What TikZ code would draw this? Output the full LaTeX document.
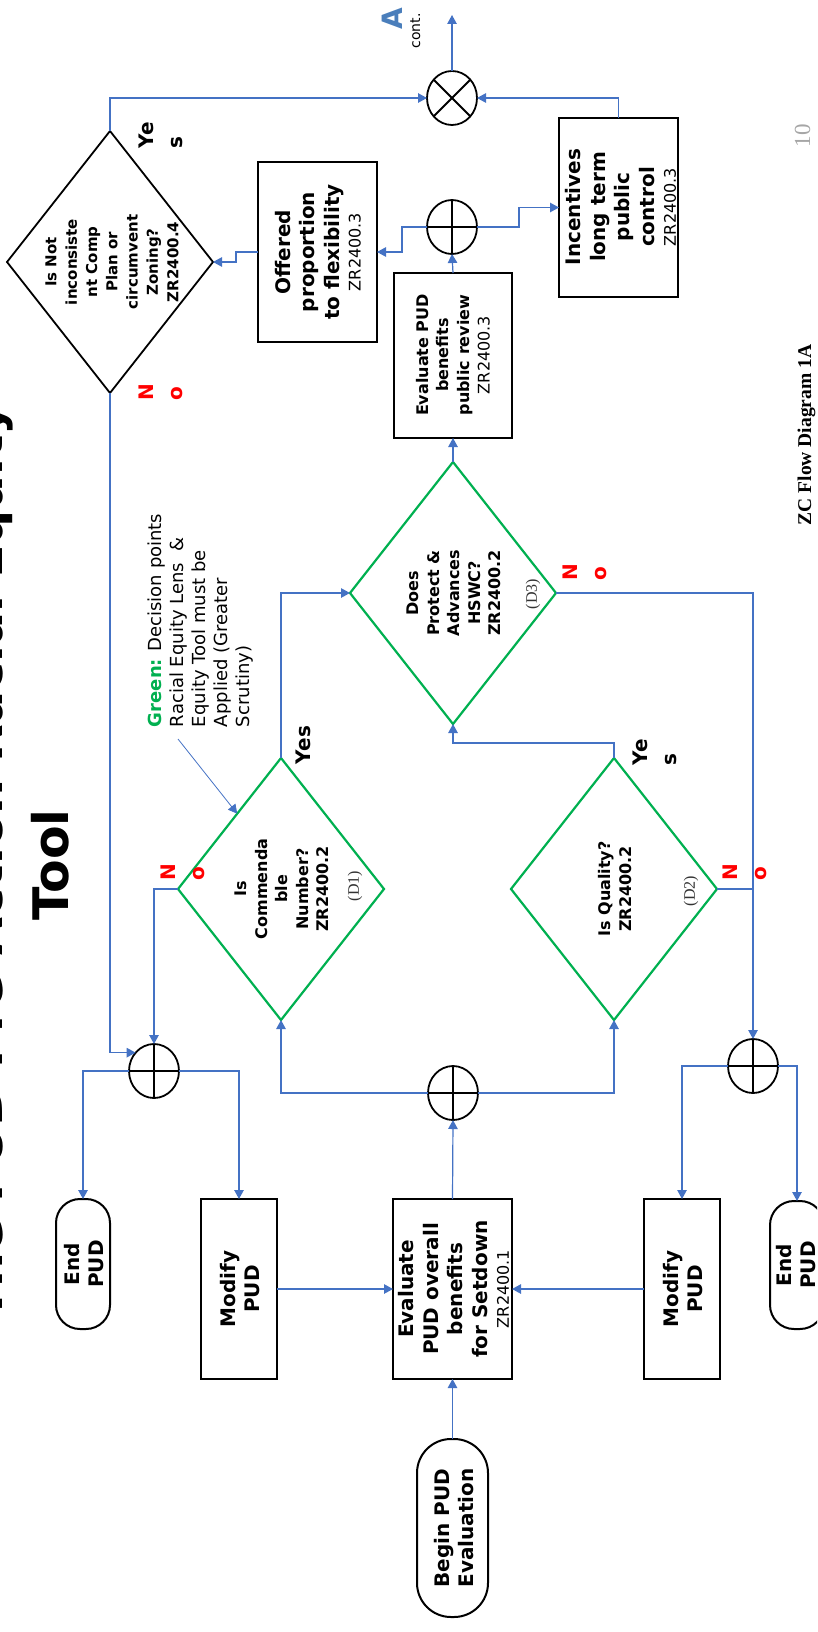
\documentclass[tikz,border=0pt]{standalone}
\usepackage{fontspec}
\setmainfont{DejaVu Sans}
\newfontfamily\serifface{Liberation Serif}
\usetikzlibrary{shapes.geometric,arrows.meta,calc}
\definecolor{cblue}{HTML}{4472C4}
\definecolor{cgreen}{HTML}{00B050}
\definecolor{cred}{HTML}{FF0000}
\definecolor{pgray}{HTML}{A6A6A6}
\definecolor{ablue}{HTML}{4A7EBB}
\newcommand\fsz[2]{\fontsize{#1}{#2}\selectfont}
\newcommand\zr[1]{{\mdseries\fsz{16}{19}#1}}
\begin{document}
\begin{tikzpicture}[x=1pt,y=-1pt,
  every node/.style={outer sep=0pt},
  conn/.style={draw=cblue,line width=1.2pt,-{Triangle[length=9pt,width=9.5pt]}},
  link/.style={draw=cblue,line width=1.2pt},
  box/.style={draw=black,line width=2pt,rectangle,inner sep=0pt},
  term/.style={draw=black,line width=2pt,rectangle,rounded corners=#1,inner sep=0pt},
  bdia/.style={diamond,draw=black,line width=1.8pt,inner sep=0pt,minimum width=206pt,minimum height=262pt},
  gdia/.style={diamond,draw=cgreen,line width=2.2pt,inner sep=0pt,minimum width=206pt,minimum height=262pt},
  circ/.style={ellipse,draw=black,line width=1.8pt,inner sep=0pt,minimum width=50pt,minimum height=54pt},
  txt/.style={rotate=90,align=center,inner sep=0pt},
  boxtxt/.style={txt,font=\bfseries\fsz{20}{24.5}},
  diatxt/.style={txt,font=\bfseries\fsz{16}{20.5}},
  yn/.style={rotate=90,align=left,inner sep=0pt,font=\bfseries\fsz{20}{29}},
  dref/.style={rotate=90,inner sep=0pt,font=\serifface\fsz{16}{18},text=black!80},
  cross/.style={draw=black,line width=1.8pt},
]
\useasboundingbox (0,0) rectangle (817,1632);
\clip (0,0) rectangle (817,1632);

% title and page texts
\node[rotate=90,anchor=base,inner sep=0pt,font=\bfseries\fsz{49}{60}] (ttl1) at (2,862) {The PUD Pre-Action Racial Equity};
\node[rotate=90,anchor=base,inner sep=0pt,font=\bfseries\fsz{49}{60}] (ttl2) at (68,865) {Tool};
\node[rotate=90,anchor=base,inner sep=0pt,font=\bfseries\fsz{28}{30},text=ablue] (lblA) at (402,19) {A};
\node[rotate=90,anchor=base,inner sep=0pt,font=\fsz{14}{16}] (lblcont) at (420,31) {cont.};
\node[rotate=90,anchor=base,inner sep=0pt,font=\serifface\fsz{23}{25},text=pgray] (pgno) at (810,136) {10};
\node[rotate=90,anchor=base,inner sep=0pt,font=\serifface\bfseries\fsz{19.5}{22}] (cap) at (811,435) {ZC Flow Diagram 1A};
\coordinate (aout) at (452,15);

% shapes
\node[bdia] (d0) at (110,262) {};
\node[box,minimum width=119pt,minimum height=180pt] (off) at (317.5,252) {};
\node[box,minimum width=119pt,minimum height=179pt] (inc) at (618.5,207.5) {};
\node[box,minimum width=118pt,minimum height=165pt] (ev3) at (453,355.5) {};
\node[circ] (xc) at (452,98) {};
\node[circ] (pc1) at (452,227) {};
\node[gdia] (d3) at (453,593) {};
\node[gdia] (d1) at (281,889) {};
\node[gdia] (d2) at (614,889) {};
\node[circ] (pc2) at (154,1071) {};
\node[circ] (pc3) at (453,1093) {};
\node[circ] (pc4) at (753,1066) {};
\node[term=24pt,minimum width=54pt,minimum height=130pt] (end1) at (83,1264) {};
\node[box,minimum width=76pt,minimum height=180pt] (mod1) at (239,1289) {};
\node[box,minimum width=119pt,minimum height=180pt] (ev1) at (452.5,1289) {};
\node[box,minimum width=76pt,minimum height=180pt] (mod2) at (682,1289) {};
\node[term=24pt,minimum width=54pt,minimum height=128pt] (end2) at (797,1265) {};
\node[term=34pt,minimum width=71pt,minimum height=178pt] (beg) at (452.5,1528) {};

% texts in shapes
\node[txt,font=\bfseries\fsz{15}{20.3}] (d0t) at (112,262) {Is Not\\inconsiste\\nt Comp\\Plan or\\circumvent\\Zoning?\\ZR2400.4};
\node[boxtxt] (offt) at (318,252) {Offered\\proportion\\to flexibility\\[-3pt]\zr{ZR2400.3}};
\node[boxtxt] (inct) at (621,207) {Incentives\\long term\\public\\control\\[-3pt]\zr{ZR2400.3}};
\node[diatxt] (ev3t) at (453,355) {Evaluate PUD\\benefits\\public review\\\zr{ZR2400.3}};
\node[diatxt] (d3t) at (454,593) {Does\\Protect \&\\Advances\\HSWC?\\ZR2400.2};
\node[dref] (d3r) at (533,594) {(D3)};
\node[diatxt] (d1t) at (282,889) {Is\\Commenda\\ble\\Number?\\ZR2400.2};
\node[dref] (d1r) at (355,886) {(D1)};
\node[diatxt] (d2t) at (615,889) {Is Quality?\\ZR2400.2};
\node[dref] (d2r) at (691,891) {(D2)};
\node[boxtxt] (mod1t) at (240,1289) {Modify\\PUD};
\node[boxtxt] (ev1t) at (454,1289) {Evaluate\\PUD overall\\benefits\\for Setdown\\[-3pt]\zr{ZR2400.1}};
\node[boxtxt] (mod2t) at (683,1289) {Modify\\PUD};
\node[boxtxt] (end1t) at (84,1264) {End\\PUD};
\node[boxtxt] (end2t) at (796,1265) {End\\PUD};
\node[boxtxt] (begt) at (454,1528) {Begin PUD\\Evaluation};

% yes / no labels
\node[yn] (ys0) at (161,135) {Ye\\s};
\node[yn,text=cred] (no0) at (161,392) {N\\o};
\node[yn] (ys1) at (303,745) {Yes};
\node[yn,text=cred] (no1) at (183,872) {N\\o};
\node[yn,text=cred] (no3) at (585,572) {N\\o};
\node[yn] (ys2) at (655,752) {Ye\\s};
\node[yn,text=cred] (no2) at (745,872) {N\\o};

% note
\node[rotate=90,align=left,anchor=north west,inner sep=0pt,font=\fsz{18}{22}] (note) at (148,727)
  {\textcolor{cgreen}{\bfseries Green:} Decision points\\Racial Equity Lens \ \&\\Equity Tool must be\\Applied (Greater\\Scrutiny)};
\coordinate (annS) at (178,739);

% connectors
\draw[conn] (beg.north) -- (ev1.south);
\draw[conn] (mod1.east) -- (ev1.west);
\draw[conn] (mod2.west) -- (ev1.east);
\draw[conn] (ev1.north) -- (pc3.south);
\draw[conn] (pc3.west) -| (d1.south);
\draw[conn] (pc3.east) -| (d2.south);
\draw[conn] (d1.north) |- (d3.west);
\draw[conn] (d2.north) -- ++(0,-15) -| (d3.south);
\draw[conn] (d3.north) -- (ev3.south);
\draw[conn] (ev3.north) -- (pc1.south);
\draw[conn] (pc1.east) -- ++(42,0) |- (inc.west);
\draw[conn] (pc1.west) -- ++(-25,0) |- (off.east);
\draw[conn] (off.west) -- ++(-22,0) |- (d0.east);
\draw[conn] (inc.north) |- (xc.east);
\draw[conn] (d0.north) |- (xc.west);
\draw[conn] (xc.north) -- (aout);
\draw[conn] (d0.south) |- (pc2.135);
\draw[conn] (d1.west) -| (pc2.north);
\draw[conn] (d3.east) -| (pc4.north);
\draw[link] (d2.east) -- (d2.east -| pc4.north);
\draw[conn] (pc2.west) -| (end1.north);
\draw[conn] (pc2.east) -| (mod1.north);
\draw[conn] (pc4.west) -| (mod2.north);
\draw[conn] (pc4.east) -| (end2.north);
\draw[conn,line width=0.8pt] (annS) -- ($(d1.north west)!0.15!(d1.north)$);

% circle marks
\draw[cross] (xc.45) -- (xc.225) (xc.135) -- (xc.315);
\foreach \p in {pc1,pc2,pc3,pc4}{
  \draw[cross] (\p.north) -- (\p.south) (\p.west) -- (\p.east);
}
\end{tikzpicture}
\end{document}
